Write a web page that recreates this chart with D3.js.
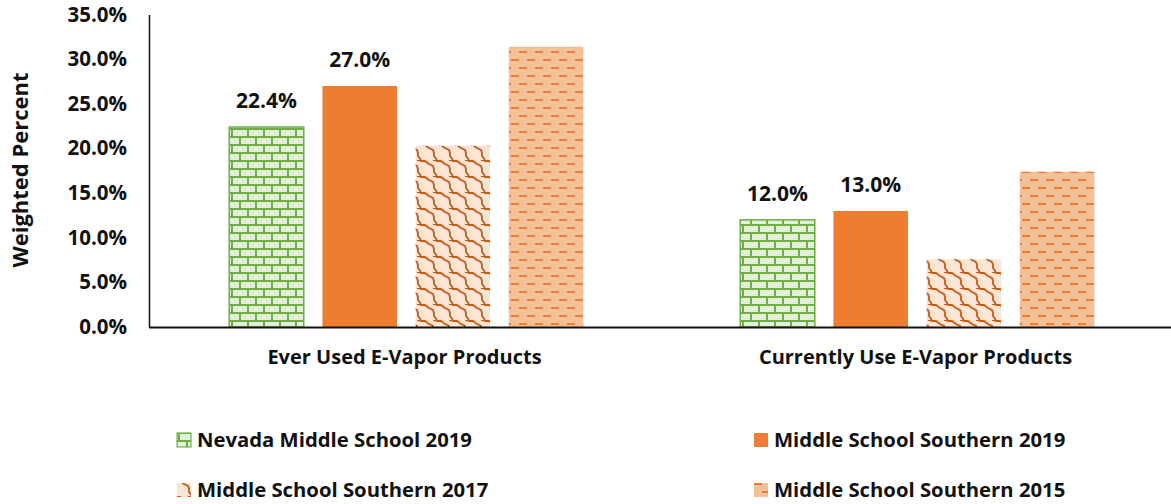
<!DOCTYPE html>
<html>
<head>
<meta charset="utf-8">
<script src="https://cdn.jsdelivr.net/npm/d3@7"></script>
<style>
  body { margin: 0; background: #fff; }
  text { font-family: "Open Sans", "Noto Sans", sans-serif; font-weight: 700; fill: #111; }
</style>
</head>
<body>
<script>
// categories and series
var categories = ["Ever Used E-Vapor Products", "Currently Use E-Vapor Products"];
var seriesNames = ["Nevada Middle School 2019", "Middle School Southern 2019",
                   "Middle School Southern 2017", "Middle School Southern 2015"];
var nevada2019   = [0.224, 0.120];
var southern2019 = [0.270, 0.130];
var southern2017 = [0.203, 0.076];
var southern2015 = [0.314, 0.174];
var labelled = [true, true, false, false];   // only 2019 series carry data labels
var yTicks = [0, 0.05, 0.10, 0.15, 0.20, 0.25, 0.30, 0.35];

var values = [nevada2019, southern2019, southern2017, southern2015];

var W = 1171, H = 504;
var plotLeft = 149, plotRight = 1171, plotBase = 327, plotTop = 14.5;

var svg = d3.select("body").append("svg")
    .attr("width", W)
    .attr("height", H);

// ---- patterns ----
var defs = svg.append("defs");

// brick (green)
var brick = defs.append("pattern")
    .attr("id", "brick")
    .attr("patternUnits", "userSpaceOnUse")
    .attr("width", 16).attr("height", 16);
brick.append("rect").attr("width", 16).attr("height", 16).attr("fill", "#e2efda");
brick.append("path")
    .attr("d", "M0,1H16 M0,9H16 M3,1V9 M11,9V17")
    .attr("stroke", "#70ad47").attr("stroke-width", 2).attr("fill", "none");

// wave (dark orange on light)
var wave = defs.append("pattern")
    .attr("id", "wave")
    .attr("patternUnits", "userSpaceOnUse")
    .attr("width", 16).attr("height", 16);
wave.append("rect").attr("width", 16).attr("height", 16).attr("fill", "#fbe5d6");
wave.append("path")
    .attr("d", "M0,1 L4,1 L8,4 L12,6 L13,9 L13,12 L16,16 M-4,12 L0,16 M12,0 L16,1")
    .attr("stroke", "#c55a11").attr("stroke-width", 1.8).attr("fill", "none");

// dashes (orange on peach)
var dash = defs.append("pattern")
    .attr("id", "dash")
    .attr("patternUnits", "userSpaceOnUse")
    .attr("width", 16).attr("height", 16);
dash.append("rect").attr("width", 16).attr("height", 16).attr("fill", "#f4c09a");
dash.append("path")
    .attr("d", "M2,4H10 M10,12H18 M-6,12H2")
    .attr("stroke", "#ed7d31").attr("stroke-width", 2).attr("fill", "none");

var fills = ["url(#brick)", "#ed7d31", "url(#wave)", "url(#dash)"];
var strokes = ["#70ad47", "none", "none", "none"];

// ---- scales ----
var x0 = d3.scaleBand().domain(categories).range([plotLeft, plotRight]);
var bw = x0.bandwidth();
var x1 = d3.scaleBand().domain(d3.range(seriesNames.length))
    .range([bw * 0.157, bw * 0.85]).paddingInner(0.2);
var y = d3.scaleLinear().domain([0, 0.35]).range([plotBase, plotTop]);

// y axis
var yAxis = d3.axisLeft(y).tickValues(yTicks).tickSize(0).tickPadding(22)
    .tickFormat(d3.format(".1%"));
var gy = svg.append("g").attr("transform", "translate(" + plotLeft + ",0)").call(yAxis);
gy.select(".domain").attr("stroke", "#111").attr("stroke-width", 1.5);
gy.selectAll("text").style("font-size", "20.5px")
    .style("font-family", '"Open Sans", sans-serif').style("font-weight", 700)
    .attr("fill", "#111");

// bars
var groups = svg.selectAll("g.cat").data(categories).enter().append("g")
    .attr("class", "cat")
    .attr("transform", function(d) { return "translate(" + x0(d) + ",0)"; });

groups.each(function(cat, ci) {
    var g = d3.select(this);
    values.forEach(function(vals, si) {
        var v = vals[ci];
        g.append("rect")
            .attr("x", x1(si))
            .attr("y", y(v))
            .attr("width", x1.bandwidth())
            .attr("height", plotBase - y(v))
            .attr("fill", fills[si])
            .attr("stroke", strokes[si])
            .attr("stroke-width", 1.5);
        if (labelled[si]) {
            g.append("text")
                .attr("x", x1(si) + x1.bandwidth() / 2)
                .attr("y", y(v) - 19)
                .attr("text-anchor", "middle")
                .style("font-size", "21px")
                .text(d3.format(".1%")(v));
        }
    });
});

// baseline
svg.append("line")
    .attr("x1", plotLeft).attr("x2", plotRight)
    .attr("y1", plotBase + 0.5).attr("y2", plotBase + 0.5)
    .attr("stroke", "#111").attr("stroke-width", 2);

// category labels
svg.selectAll("text.cat-label").data(categories).enter().append("text")
    .attr("class", "cat-label")
    .attr("x", function(d) { return x0(d) + bw / 2; })
    .attr("y", 364)
    .attr("text-anchor", "middle")
    .style("font-size", "20px")
    .text(function(d) { return d; });

// y title
svg.append("text")
    .attr("transform", "translate(28,170) rotate(-90)")
    .attr("text-anchor", "middle")
    .style("font-size", "22px")
    .text("Weighted Percent");

// legend
var legendPos = [[177, 440], [754, 440], [177, 490], [754, 490]];
seriesNames.forEach(function(name, i) {
    var p = legendPos[i];
    svg.append("rect")
        .attr("x", p[0]).attr("y", p[1] - 7)
        .attr("width", 14).attr("height", 14)
        .attr("fill", fills[i])
        .attr("stroke", strokes[i])
        .attr("stroke-width", 1.2);
    svg.append("text")
        .attr("x", p[0] + 20).attr("y", p[1] + 7)
        .style("font-size", "20.3px")
        .text(name);
});
</script>
</body>
</html>
